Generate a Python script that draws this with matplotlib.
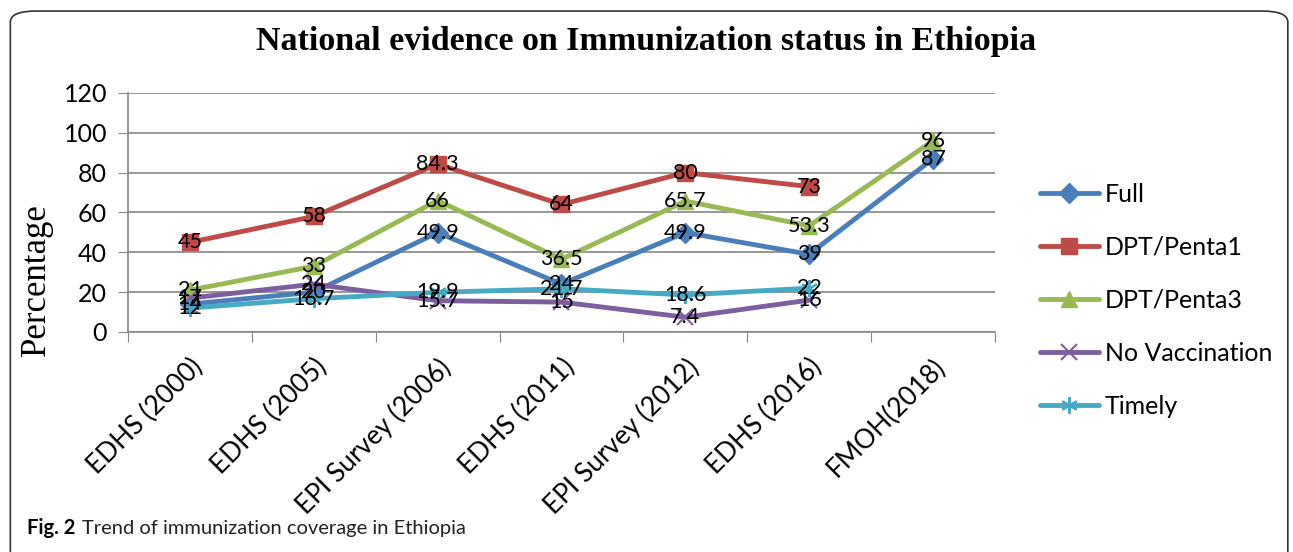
import numpy as np
import matplotlib
matplotlib.use("Agg")
import matplotlib.pyplot as plt
from matplotlib.patches import FancyBboxPatch

# datos
encuestas = ["EDHS (2000)", "EDHS (2005)", "EPI Survey (2006)", "EDHS (2011)",
             "EPI Survey (2012)", "EDHS (2016)", "FMOH(2018)"]
full = [14, 20, 49.9, 24, 49.9, 39, 87]
dpt_penta1 = [45, 58, 84.3, 64, 80, 73, None]
dpt_penta3 = [21, 33, 66, 36.5, 65.7, 53.3, 96]
no_vacunados = [17, 24, 15.7, 15, 7.4, 16, None]
a_tiempo = [12, 16.7, 19.9, 21.7, 18.6, 22, None]

series = [
    ("Full", full, "#4A7EBB", "D", 10),
    ("DPT/Penta1", dpt_penta1, "#BE4B48", "s", 12),
    ("DPT/Penta3", dpt_penta3, "#98B954", "^", 12),
    ("No Vaccination", no_vacunados, "#7D5FA0", "x", 11),
    ("Timely", a_tiempo, "#46AAC5", (6, 2, 0), 12),
]

fuente = "Lato"

fig = plt.figure(figsize=(12.93, 5.52), dpi=100)
ax = fig.add_axes([0.099, 0.3986, 0.6705, 0.433])

x = np.arange(len(encuestas)) + 0.5
for nombre, vals, color, marca, tam in series:
    xs = [xi for xi, v in zip(x, vals) if v is not None]
    ys = [v for v in vals if v is not None]
    ax.plot(xs, ys, color=color, lw=3.5, marker=marca, markersize=tam,
            markeredgewidth=1.5 if marca in ("x", (6, 2, 0)) else 1,
            markeredgecolor=color, label=nombre, zorder=3,
            solid_capstyle="round")

# etiquetas de datos centradas en cada punto
for nombre, vals, color, marca, tam in series:
    for xi, v in zip(x, vals):
        if v is not None:
            ax.text(xi, v, f"{v:g}", ha="center", va="center", fontsize=15.5,
                    family=fuente, zorder=5)

ax.set_xlim(0, 7)
ax.set_ylim(0, 120)
ax.set_yticks(range(0, 121, 20))
ax.set_xticks(range(0, 8))
ax.set_xticklabels([])
ax.set_xticks(x, minor=True)
ax.set_xticklabels(encuestas, minor=True, rotation=45, ha="right",
                   rotation_mode="anchor", fontsize=19, family=fuente)
ax.tick_params(axis="x", which="minor", length=0, pad=16)
ax.tick_params(axis="x", which="major", length=7, color="#868686", direction="out")
ax.tick_params(axis="y", length=7, color="#868686", labelsize=18, pad=8)
for lab in ax.get_yticklabels():
    lab.set_family(fuente)
ax.grid(axis="y", color="#868686", lw=1.2)
ax.set_axisbelow(True)
for lado in ["top", "right"]:
    ax.spines[lado].set_visible(False)
ax.spines["left"].set_color("#868686")
ax.spines["bottom"].set_color("#868686")
ax.spines["left"].set_linewidth(1.2)
ax.spines["bottom"].set_linewidth(1.2)

ax.set_ylabel("Percentage", family="Liberation Serif", fontsize=25)
ax.yaxis.set_label_coords(-0.087, 0.22)

fig.text(0.5, 0.925, "National evidence on Immunization status in Ethiopia",
         ha="center", va="center", family="Liberation Serif",
         fontweight="bold", fontsize=24.5)

fig.legend(loc="upper left", bbox_to_anchor=(0.787, 0.71), frameon=False,
           prop={"family": fuente, "size": 18}, labelspacing=1.2,
           handlelength=2.35, handletextpad=0.25)

# marco redondeado y pie de figura
marco = FancyBboxPatch((0.008, -0.03), 0.988, 1.01,
                       boxstyle="round,pad=0,rounding_size=0.02",
                       transform=fig.transFigure, fill=False,
                       edgecolor="#333333", lw=1.2)
fig.patches.append(marco)
t1 = fig.text(0.021, 0.043, "Fig. 2", fontweight="bold", family=fuente,
              fontsize=14.5, va="center")
fig.canvas.draw()
caja = t1.get_window_extent()
x2 = (caja.x1 + 6) / fig.bbox.width
fig.text(x2, 0.043, "Trend of immunization coverage in Ethiopia",
         family=fuente, fontsize=14.5, va="center", color="#222222")

fig.savefig("out.png", dpi=100)
